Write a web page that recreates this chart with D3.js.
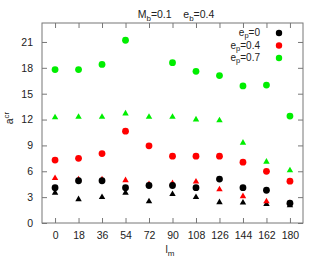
<!DOCTYPE html>
<html>
<head>
<meta charset="UTF-8">
<script src="https://cdn.jsdelivr.net/npm/d3@7/dist/d3.min.js"></script>
<style>
  body { margin: 0; background: #fff; }
  text { font-family: "Liberation Sans", Arial, sans-serif; font-size: 10.5px; fill: #222; }
</style>
</head>
<body>
<svg id="svg"></svg>
<script>
var WIDTH = 322, HEIGHT = 273;
var M = {left: 42, right: 19, top: 23, bottom: 50};

// data
var lm = [0, 18, 36, 54, 72, 90, 108, 126, 144, 162, 180];
var yTicks = [0, 3, 6, 9, 12, 15, 18, 21];

// circles (legend entries)
var circ0  = [4.1, 4.9, 4.9, 4.1, 4.35, 4.35, 4.1, 5.1, 4.1, 3.8, 2.3];
var circ04 = [7.3, 7.5, 8.05, 10.65, 8.95, 7.75, 7.75, 7.75, 7.05, 6.0, 4.85];
var circ07 = [17.8, 17.8, 18.4, 21.2, null, 18.6, 17.6, 17.1, 15.9, 16.0, 12.4];
// triangles
var tri0  = [3.5, 2.75, 3.0, 3.5, 2.5, 3.35, 3.0, 2.4, 2.35, 2.2, 2.05];
var tri04 = [5.2, 5.05, 5.05, 4.95, 4.5, 4.6, 4.8, 3.9, 3.1, 2.5, 2.3];
var tri07 = [12.25, 12.3, 12.3, 12.7, 12.3, 12.3, 12.0, 11.9, 9.3, 7.1, 6.1];

var labels = ["0", "0.4", "0.7"];
var colors = ["#000000", "#ff0000", "#00ee00"];

var svg = d3.select('#svg').attr('width', WIDTH).attr('height', HEIGHT);

var x = d3.scaleLinear().domain([-10, 190]).range([M.left, WIDTH - M.right]);
var y = d3.scaleLinear().domain([0, 23.2]).range([HEIGHT - M.bottom, M.top]);

var x0 = M.left, x1 = WIDTH - M.right, y0 = HEIGHT - M.bottom, y1 = M.top;

// axes with inward ticks on all four sides
var ax = svg.append('g').attr('class', 'axis');
ax.append('g').attr('transform', 'translate(0,' + y0 + ')')
  .call(d3.axisBottom(x).tickValues(lm).tickSizeInner(-5).tickSizeOuter(0).tickPadding(9));
ax.append('g').attr('transform', 'translate(0,' + y1 + ')')
  .call(d3.axisTop(x).tickValues(lm).tickSizeInner(-5).tickSizeOuter(0).tickFormat(''));
ax.append('g').attr('transform', 'translate(' + x0 + ',0)')
  .call(d3.axisLeft(y).tickValues(yTicks).tickSizeInner(-5).tickSizeOuter(0).tickPadding(9));
ax.append('g').attr('transform', 'translate(' + x1 + ',0)')
  .call(d3.axisRight(y).tickValues(yTicks).tickSizeInner(-5).tickSizeOuter(0).tickFormat(''));
ax.selectAll('.domain').remove();
ax.selectAll('line').attr('stroke', '#777');
ax.selectAll('text').style('font-size', '10.5px').attr('fill', '#222');

svg.append('rect').attr('x', x0).attr('y', y1).attr('width', x1 - x0).attr('height', y0 - y1)
  .attr('fill', 'none').attr('stroke', '#777').attr('stroke-width', 1);

// title and axis labels
var title = svg.append('text').attr('x', 176).attr('y', 18).attr('text-anchor', 'middle');
title.append('tspan').text('M');
title.append('tspan').attr('dy', 3).style('font-size', '8px').text('b');
title.append('tspan').attr('dy', -3).text('=0.1\u00a0\u00a0\u00a0\u00a0e');
title.append('tspan').attr('dy', 3).style('font-size', '8px').text('b');
title.append('tspan').attr('dy', -3).text('=0.4');

var xl = svg.append('text').attr('x', 170).attr('y', 253).attr('text-anchor', 'middle');
xl.append('tspan').text('l');
xl.append('tspan').attr('dy', 3).style('font-size', '8px').text('m');

var yl = svg.append('text').attr('transform', 'translate(13,118) rotate(-90)').attr('text-anchor', 'middle');
yl.append('tspan').text('a');
yl.append('tspan').attr('dy', -4).style('font-size', '8px').text('cr');

// points
var circSeries = [circ0, circ04, circ07];
var triSeries = [tri0, tri04, tri07];
var tri = d3.symbol().type(d3.symbolTriangle).size(18);

triSeries.forEach(function(s, i) {
  svg.append('g').selectAll('path')
    .data(s.map(function(v, j) { return [lm[j], v]; }).filter(function(d) { return d[1] != null; }))
    .enter().append('path')
    .attr('d', tri)
    .attr('transform', function(d) { return 'translate(' + x(d[0]) + ',' + y(d[1]) + ')'; })
    .attr('fill', colors[i]);
});
circSeries.forEach(function(s, i) {
  svg.append('g').selectAll('circle')
    .data(s.map(function(v, j) { return [lm[j], v]; }).filter(function(d) { return d[1] != null; }))
    .enter().append('circle')
    .attr('cx', function(d) { return x(d[0]); })
    .attr('cy', function(d) { return y(d[1]); })
    .attr('r', 3.4)
    .attr('fill', colors[i]);
});

// legend
labels.forEach(function(l, i) {
  var ly = 36 + i * 12.5;
  var t = svg.append('text').attr('x', 260).attr('y', ly).attr('text-anchor', 'end')
    .style('font-size', '10px');
  t.append('tspan').text('e');
  t.append('tspan').attr('dy', 2).style('font-size', '7.5px').text('p');
  t.append('tspan').attr('dy', -2).text('=' + l);
  svg.append('circle').attr('cx', 279).attr('cy', ly - 3).attr('r', 3.2).attr('fill', colors[i]);
});
</script>
</body>
</html>
